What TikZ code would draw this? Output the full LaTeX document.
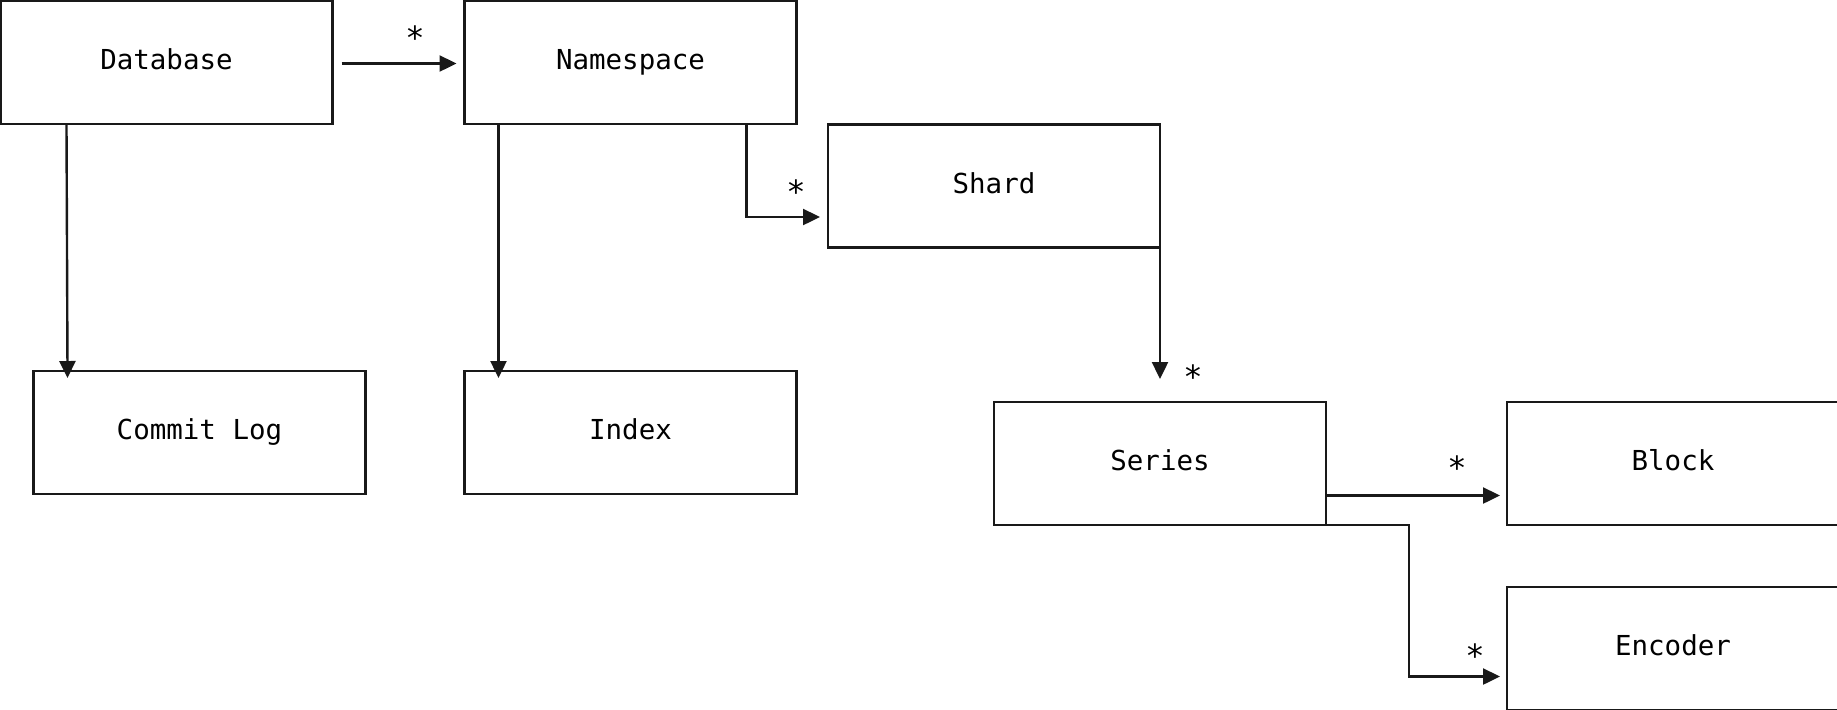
\documentclass[tikz,border=0pt]{standalone}
\usepackage{fontspec}
\setmonofont{DejaVu Sans Mono}
\usetikzlibrary{arrows.meta}
\tikzset{
  boxnode/.style={draw=black!90, line width=1.2pt, minimum width=166pt, minimum height=61.5pt,
    inner sep=0pt, outer sep=0pt, font=\ttfamily\fontsize{13.75}{16}\selectfont,
    text height=0.73em, text depth=0pt},
  arr/.style={draw=black!90, line width=1.2pt, -{Triangle[length=8.5pt,width=8pt]}},
  star/.style={inner sep=0pt, outer sep=0pt, anchor=north, font=\ttfamily\fontsize{16}{18}\selectfont}
}
\begin{document}
\begin{tikzpicture}[x=0.5pt,y=-0.5pt]
\useasboundingbox (0,0) rectangle (1837,709);
\clip (0,0) rectangle (1837,709);
\node[boxnode] (db) at (166.5,62.5) {Database};
\node[boxnode] (ns) at (630.5,62.5) {Namespace};
\node[boxnode] (sh) at (994,186) {Shard};
\node[boxnode] (cl) at (199.5,432.5) {Commit Log};
\node[boxnode] (ix) at (630.5,432.5) {Index};
\node[boxnode] (se) at (1160,463.5) {Series};
\node[boxnode] (bl) at (1673,463.5) {Block};
\node[boxnode] (en) at (1673,648.5) {Encoder};

\draw[arr, shorten <=4.5pt, shorten >=4pt] ([yshift=-0.5pt]db.east) -- ([yshift=-0.5pt]ns.west);
\draw[arr, shorten >=-3.5pt] ([xshift=33pt]db.south west) -- ([xshift=17pt]cl.north west);
\draw[arr, shorten >=-3.5pt] ([xshift=17pt]ns.south west) -- ([xshift=17pt]ix.north west);
\draw[arr, shorten >=4pt] ([xshift=141pt]ns.south west) |- ([yshift=-15.5pt]sh.west);
\draw[arr, shorten >=11.5pt] (sh.south east) -- (se.north);
\draw[arr, shorten >=3.5pt] ([yshift=-16pt]se.east) -- ([yshift=-16pt]bl.west);
\draw[arr, shorten >=3.5pt] (se.south east) -- ++(83,0) |- ([yshift=-14pt]en.west);

\node[star] (s1) at (415,26) {*};
\node[star] (s2) at (796,180) {*};
\node[star] (s3) at (1193,365) {*};
\node[star] (s4) at (1457,456) {*};
\node[star] (s5) at (1475,644) {*};
\end{tikzpicture}
\end{document}
